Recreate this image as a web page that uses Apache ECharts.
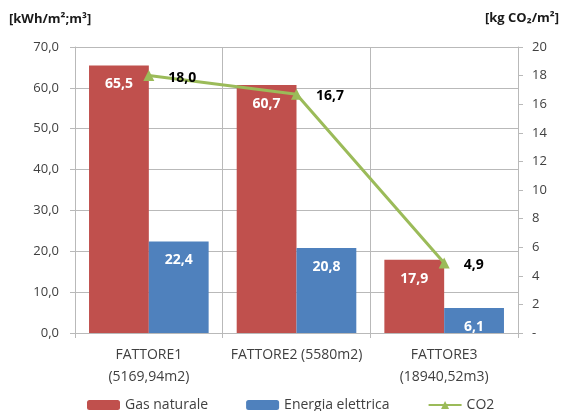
<!DOCTYPE html>
<html>
<head>
<meta charset="utf-8">
<script src="https://cdn.jsdelivr.net/npm/echarts@6/dist/echarts.min.js"></script>
<style>
  html, body { margin: 0; padding: 0; background: #fff; }
  #chart { width: 562px; height: 411px; }
</style>
</head>
<body>
<div id="chart"></div>
<script>
// Energy intensity per building and associated CO2 emissions
var categories = ['FATTORE1\n(5169,94m2)', 'FATTORE2 (5580m2)', 'FATTORE3\n(18940,52m3)'];
var gasNaturale = [65.5, 60.7, 17.9];
var energiaElettrica = [22.4, 20.8, 6.1];
var co2 = [18.0, 16.7, 4.9];

var FONT = '"Open Sans", "Noto Sans", sans-serif';
var GRID_COLOR = '#b9b9b9';
var TEXT_COLOR = '#404040';

function comma(v, digits) {
  return v.toFixed(digits).replace('.', ',');
}

var chart = echarts.init(document.getElementById('chart'), null, { renderer: 'canvas' });

chart.setOption({
  animation: false,
  backgroundColor: '#fff',
  textStyle: { fontFamily: FONT },
  grid: { left: 75, right: 44, top: 47, bottom: 78, containLabel: false },
  graphic: [
    {
      type: 'text', left: 9, top: 13,
      style: { text: '[kWh/m²;m³]', font: 'bold 13px ' + FONT, fill: '#1a1a1a' }
    },
    {
      type: 'text', right: 3, top: 12,
      style: { text: '[kg CO₂/m²]', font: 'bold 13px ' + FONT, fill: '#1a1a1a' }
    }
  ],
  legend: {
    bottom: -6,
    left: 82,
    itemWidth: 33,
    itemHeight: 10,
    itemGap: 38,
    textStyle: { fontFamily: FONT, fontSize: 14, color: TEXT_COLOR },
    data: [
      { name: 'Gas naturale' },
      { name: 'Energia elettrica' },
      { name: 'CO2' }
    ]
  },
  xAxis: {
    type: 'category',
    data: categories,
    boundaryGap: true,
    axisLine: { show: true, lineStyle: { color: GRID_COLOR } },
    axisTick: { show: true, length: 5, lineStyle: { color: GRID_COLOR } },
    splitLine: { show: true, lineStyle: { color: GRID_COLOR, width: 1 } },
    axisLabel: {
      color: TEXT_COLOR, fontFamily: FONT, fontSize: 14,
      lineHeight: 22, margin: 11, interval: 0
    }
  },
  yAxis: [
    {
      type: 'value', min: 0, max: 70, interval: 10,
      axisLine: { show: true, lineStyle: { color: GRID_COLOR } },
      axisTick: { show: true, length: 5, lineStyle: { color: GRID_COLOR } },
      splitLine: { show: true, lineStyle: { color: GRID_COLOR } },
      axisLabel: {
        color: TEXT_COLOR, fontFamily: FONT, fontSize: 13, margin: 16,
        formatter: function (v) { return comma(v, 1); }
      }
    },
    {
      type: 'value', min: 0, max: 20, interval: 2,
      position: 'right',
      axisLine: { show: true, lineStyle: { color: GRID_COLOR } },
      axisTick: { show: true, length: 5, lineStyle: { color: GRID_COLOR } },
      splitLine: { show: false },
      axisLabel: {
        color: TEXT_COLOR, fontFamily: FONT, fontSize: 13, margin: 14,
        formatter: function (v) { return v === 0 ? '-' : String(v); }
      }
    }
  ],
  series: [
    {
      name: 'Gas naturale',
      type: 'bar',
      data: gasNaturale,
      barGap: '0%',
      barCategoryGap: '19%',
      itemStyle: { color: '#C0504D' },
      label: {
        show: true, position: 'insideTop', distance: 12,
        color: '#fff', fontWeight: 'bold', fontSize: 14, fontFamily: FONT,
        formatter: function (p) { return comma(p.value, 1); }
      }
    },
    {
      name: 'Energia elettrica',
      type: 'bar',
      data: energiaElettrica,
      itemStyle: { color: '#4F81BD' },
      label: {
        show: true, position: 'insideTop', distance: 12,
        color: '#fff', fontWeight: 'bold', fontSize: 14, fontFamily: FONT,
        formatter: function (p) { return comma(p.value, 1); }
      }
    },
    {
      name: 'CO2',
      type: 'line',
      yAxisIndex: 1,
      data: co2,
      z: 5,
      symbol: 'triangle',
      symbolSize: 11,
      itemStyle: { color: '#9BBB59' },
      lineStyle: { color: '#9BBB59', width: 3 },
      label: {
        show: true, position: 'right', distance: 14, offset: [0, 2],
        color: '#000', fontWeight: 'bold', fontSize: 14, fontFamily: FONT,
        formatter: function (p) { return comma(p.value, 1); }
      }
    }
  ]
});
</script>
</body>
</html>
